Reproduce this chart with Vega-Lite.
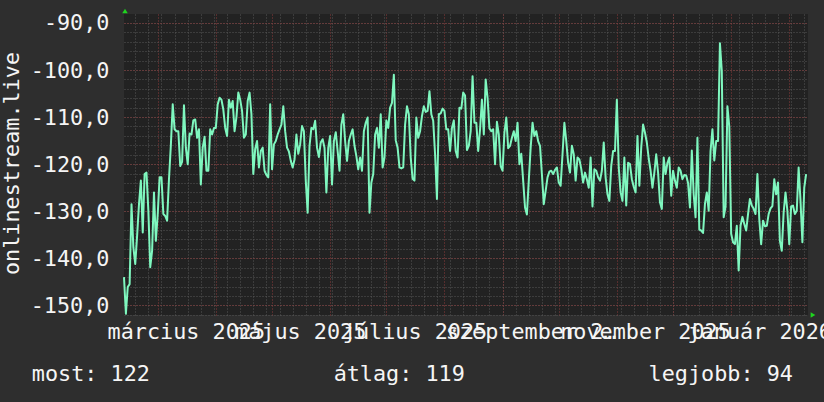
{
"$schema": "https://vega.github.io/schema/vega-lite/v6.json",
"autosize": {"type": "none"},
"width": 684, "height": 301,
"padding": {"left": 124, "top": 14, "right": 16, "bottom": 87},
"background": "#2e2e2e",
"config": {
 "view": {"fill": "#222222", "stroke": null},
 "font": "DejaVu Sans Mono",
 "axis": {"labelFont": "DejaVu Sans Mono", "labelFontSize": 21.8, "labelColor": "#f5f5f5", "titleFont": "DejaVu Sans Mono", "titleFontSize": 21.8, "titleFontWeight": "normal", "titleColor": "#f5f5f5", "ticks": false, "tickSize": 0, "domain": false, "gridWidth": 1, "gridOpacity": 1, "labelOverlap": false, "labelFlush": false}
},
"data": {"values": [
{"date":"2025-02-11","value":-144.0},{"date":"2025-02-12","value":-151.8},{"date":"2025-02-13","value":-146.1},{"date":"2025-02-14","value":-145.5},{"date":"2025-02-15","value":-128.5},{"date":"2025-02-16","value":-137.7},{"date":"2025-02-17","value":-141.2},{"date":"2025-02-18","value":-135.2},{"date":"2025-02-19","value":-128.5},{"date":"2025-02-20","value":-123.5},{"date":"2025-02-21","value":-134.5},{"date":"2025-02-22","value":-122.1},{"date":"2025-02-23","value":-121.8},{"date":"2025-02-24","value":-129.9},{"date":"2025-02-25","value":-141.9},{"date":"2025-02-26","value":-138.4},{"date":"2025-02-27","value":-126.0},{"date":"2025-02-28","value":-136.3},
{"date":"2025-03-01","value":-130.6},{"date":"2025-03-02","value":-122.8},{"date":"2025-03-03","value":-122.8},{"date":"2025-03-04","value":-130.6},{"date":"2025-03-05","value":-131.0},{"date":"2025-03-06","value":-132.0},{"date":"2025-03-07","value":-123.2},{"date":"2025-03-08","value":-116.0},{"date":"2025-03-09","value":-107.3},{"date":"2025-03-10","value":-112.6},{"date":"2025-03-11","value":-113.0},{"date":"2025-03-12","value":-113.0},{"date":"2025-03-13","value":-120.4},{"date":"2025-03-14","value":-119.5},{"date":"2025-03-15","value":-107.5},{"date":"2025-03-16","value":-116.5},{"date":"2025-03-17","value":-120.0},{"date":"2025-03-18","value":-113.5},{"date":"2025-03-19","value":-113.7},{"date":"2025-03-20","value":-110.7},{"date":"2025-03-21","value":-110.5},{"date":"2025-03-22","value":-114.4},{"date":"2025-03-23","value":-112.6},{"date":"2025-03-24","value":-124.3},{"date":"2025-03-25","value":-116.5},{"date":"2025-03-26","value":-114.2},{"date":"2025-03-27","value":-121.4},{"date":"2025-03-28","value":-121.4},{"date":"2025-03-29","value":-112.6},{"date":"2025-03-30","value":-113.7},{"date":"2025-03-31","value":-112.3},
{"date":"2025-04-01","value":-112.3},{"date":"2025-04-02","value":-107.3},{"date":"2025-04-03","value":-105.9},{"date":"2025-04-04","value":-106.3},{"date":"2025-04-05","value":-108.4},{"date":"2025-04-06","value":-112.3},{"date":"2025-04-07","value":-114.0},{"date":"2025-04-08","value":-106.3},{"date":"2025-04-09","value":-108.0},{"date":"2025-04-10","value":-106.6},{"date":"2025-04-11","value":-113.0},{"date":"2025-04-12","value":-110.0},{"date":"2025-04-13","value":-104.8},{"date":"2025-04-14","value":-106.3},{"date":"2025-04-15","value":-108.7},{"date":"2025-04-16","value":-114.4},{"date":"2025-04-17","value":-113.7},{"date":"2025-04-18","value":-106.6},{"date":"2025-04-19","value":-104.8},{"date":"2025-04-20","value":-109.4},{"date":"2025-04-21","value":-122.1},{"date":"2025-04-22","value":-116.8},{"date":"2025-04-23","value":-115.1},{"date":"2025-04-24","value":-120.7},{"date":"2025-04-25","value":-117.2},{"date":"2025-04-26","value":-116.5},{"date":"2025-04-27","value":-121.4},{"date":"2025-04-28","value":-122.3},{"date":"2025-04-29","value":-122.8},{"date":"2025-04-30","value":-107.3},
{"date":"2025-05-01","value":-121.1},{"date":"2025-05-02","value":-115.8},{"date":"2025-05-03","value":-115.1},{"date":"2025-05-04","value":-113.7},{"date":"2025-05-05","value":-112.6},{"date":"2025-05-06","value":-111.6},{"date":"2025-05-07","value":-107.7},{"date":"2025-05-08","value":-113.0},{"date":"2025-05-09","value":-116.5},{"date":"2025-05-10","value":-117.3},{"date":"2025-05-11","value":-119.3},{"date":"2025-05-12","value":-120.7},{"date":"2025-05-13","value":-119.0},{"date":"2025-05-14","value":-113.7},{"date":"2025-05-15","value":-117.8},{"date":"2025-05-16","value":-115.8},{"date":"2025-05-17","value":-111.9},{"date":"2025-05-18","value":-113.0},{"date":"2025-05-19","value":-123.5},{"date":"2025-05-20","value":-130.3},{"date":"2025-05-21","value":-116.1},{"date":"2025-05-22","value":-112.3},{"date":"2025-05-23","value":-112.6},{"date":"2025-05-24","value":-110.8},{"date":"2025-05-25","value":-116.5},{"date":"2025-05-26","value":-118.5},{"date":"2025-05-27","value":-115.4},{"date":"2025-05-28","value":-114.7},{"date":"2025-05-29","value":-116.5},{"date":"2025-05-30","value":-126.0},{"date":"2025-05-31","value":-116.5},
{"date":"2025-06-01","value":-114.0},{"date":"2025-06-02","value":-124.3},{"date":"2025-06-03","value":-115.1},{"date":"2025-06-04","value":-113.2},{"date":"2025-06-05","value":-117.2},{"date":"2025-06-06","value":-121.4},{"date":"2025-06-07","value":-111.6},{"date":"2025-06-08","value":-109.4},{"date":"2025-06-09","value":-115.1},{"date":"2025-06-10","value":-119.3},{"date":"2025-06-11","value":-115.1},{"date":"2025-06-12","value":-113.7},{"date":"2025-06-13","value":-112.6},{"date":"2025-06-14","value":-116.1},{"date":"2025-06-15","value":-118.3},{"date":"2025-06-16","value":-121.1},{"date":"2025-06-17","value":-118.6},{"date":"2025-06-18","value":-121.4},{"date":"2025-06-19","value":-113.0},{"date":"2025-06-20","value":-111.2},{"date":"2025-06-21","value":-110.1},{"date":"2025-06-22","value":-130.3},{"date":"2025-06-23","value":-123.9},{"date":"2025-06-24","value":-122.1},{"date":"2025-06-25","value":-113.7},{"date":"2025-06-26","value":-112.3},{"date":"2025-06-27","value":-116.5},{"date":"2025-06-28","value":-109.4},{"date":"2025-06-29","value":-120.7},{"date":"2025-06-30","value":-118.6},
{"date":"2025-07-01","value":-110.7},{"date":"2025-07-02","value":-112.3},{"date":"2025-07-03","value":-108.0},{"date":"2025-07-04","value":-107.0},{"date":"2025-07-05","value":-101.0},{"date":"2025-07-06","value":-114.9},{"date":"2025-07-07","value":-116.5},{"date":"2025-07-08","value":-120.7},{"date":"2025-07-09","value":-120.9},{"date":"2025-07-10","value":-120.7},{"date":"2025-07-11","value":-111.6},{"date":"2025-07-12","value":-107.7},{"date":"2025-07-13","value":-109.4},{"date":"2025-07-14","value":-118.6},{"date":"2025-07-15","value":-123.1},{"date":"2025-07-16","value":-123.5},{"date":"2025-07-17","value":-110.1},{"date":"2025-07-18","value":-114.4},{"date":"2025-07-19","value":-113.0},{"date":"2025-07-20","value":-109.8},{"date":"2025-07-21","value":-107.7},{"date":"2025-07-22","value":-108.9},{"date":"2025-07-23","value":-108.7},{"date":"2025-07-24","value":-104.5},{"date":"2025-07-25","value":-109.4},{"date":"2025-07-26","value":-110.8},{"date":"2025-07-27","value":-117.9},{"date":"2025-07-28","value":-127.4},{"date":"2025-07-29","value":-109.4},{"date":"2025-07-30","value":-109.2},{"date":"2025-07-31","value":-108.2},
{"date":"2025-08-01","value":-108.7},{"date":"2025-08-02","value":-112.6},{"date":"2025-08-03","value":-112.6},{"date":"2025-08-04","value":-117.2},{"date":"2025-08-05","value":-112.3},{"date":"2025-08-06","value":-110.7},{"date":"2025-08-07","value":-117.2},{"date":"2025-08-08","value":-118.6},{"date":"2025-08-09","value":-108.0},{"date":"2025-08-10","value":-108.2},{"date":"2025-08-11","value":-104.8},{"date":"2025-08-12","value":-105.4},{"date":"2025-08-13","value":-117.0},{"date":"2025-08-14","value":-116.1},{"date":"2025-08-15","value":-113.0},{"date":"2025-08-16","value":-101.3},{"date":"2025-08-17","value":-111.2},{"date":"2025-08-18","value":-111.2},{"date":"2025-08-19","value":-117.2},{"date":"2025-08-20","value":-112.6},{"date":"2025-08-21","value":-106.3},{"date":"2025-08-22","value":-113.7},{"date":"2025-08-23","value":-102.0},{"date":"2025-08-24","value":-105.9},{"date":"2025-08-25","value":-112.4},{"date":"2025-08-26","value":-113.0},{"date":"2025-08-27","value":-112.6},{"date":"2025-08-28","value":-120.0},{"date":"2025-08-29","value":-111.0},{"date":"2025-08-30","value":-113.7},{"date":"2025-08-31","value":-120.4},
{"date":"2025-09-01","value":-121.4},{"date":"2025-09-02","value":-113.3},{"date":"2025-09-03","value":-110.1},{"date":"2025-09-04","value":-116.6},{"date":"2025-09-05","value":-116.1},{"date":"2025-09-06","value":-114.4},{"date":"2025-09-07","value":-113.0},{"date":"2025-09-08","value":-115.1},{"date":"2025-09-09","value":-111.2},{"date":"2025-09-10","value":-120.0},{"date":"2025-09-11","value":-117.8},{"date":"2025-09-12","value":-123.5},{"date":"2025-09-13","value":-129.2},{"date":"2025-09-14","value":-130.7},{"date":"2025-09-15","value":-123.5},{"date":"2025-09-16","value":-116.5},{"date":"2025-09-17","value":-111.2},{"date":"2025-09-18","value":-114.0},{"date":"2025-09-19","value":-113.0},{"date":"2025-09-20","value":-115.1},{"date":"2025-09-21","value":-116.1},{"date":"2025-09-22","value":-122.1},{"date":"2025-09-23","value":-128.5},{"date":"2025-09-24","value":-125.7},{"date":"2025-09-25","value":-122.8},{"date":"2025-09-26","value":-121.6},{"date":"2025-09-27","value":-121.4},{"date":"2025-09-28","value":-122.1},{"date":"2025-09-29","value":-121.2},{"date":"2025-09-30","value":-120.7},
{"date":"2025-10-01","value":-123.9},{"date":"2025-10-02","value":-124.6},{"date":"2025-10-03","value":-117.9},{"date":"2025-10-04","value":-111.2},{"date":"2025-10-05","value":-115.1},{"date":"2025-10-06","value":-119.7},{"date":"2025-10-07","value":-121.8},{"date":"2025-10-08","value":-116.1},{"date":"2025-10-09","value":-117.9},{"date":"2025-10-10","value":-123.5},{"date":"2025-10-11","value":-118.6},{"date":"2025-10-12","value":-119.0},{"date":"2025-10-13","value":-121.0},{"date":"2025-10-14","value":-123.9},{"date":"2025-10-15","value":-121.8},{"date":"2025-10-16","value":-123.2},{"date":"2025-10-17","value":-125.0},{"date":"2025-10-18","value":-118.6},{"date":"2025-10-19","value":-129.0},{"date":"2025-10-20","value":-121.1},{"date":"2025-10-21","value":-121.4},{"date":"2025-10-22","value":-122.8},{"date":"2025-10-23","value":-123.5},{"date":"2025-10-24","value":-121.4},{"date":"2025-10-25","value":-115.4},{"date":"2025-10-26","value":-122.8},{"date":"2025-10-27","value":-126.4},{"date":"2025-10-28","value":-127.8},{"date":"2025-10-29","value":-120.4},{"date":"2025-10-30","value":-117.2},{"date":"2025-10-31","value":-117.2},
{"date":"2025-11-01","value":-106.3},{"date":"2025-11-02","value":-120.7},{"date":"2025-11-03","value":-126.0},{"date":"2025-11-04","value":-127.8},{"date":"2025-11-05","value":-118.6},{"date":"2025-11-06","value":-128.8},{"date":"2025-11-07","value":-119.7},{"date":"2025-11-08","value":-120.0},{"date":"2025-11-09","value":-123.2},{"date":"2025-11-10","value":-124.8},{"date":"2025-11-11","value":-126.0},{"date":"2025-11-12","value":-114.0},{"date":"2025-11-13","value":-124.6},{"date":"2025-11-14","value":-116.5},{"date":"2025-11-15","value":-111.6},{"date":"2025-11-16","value":-113.3},{"date":"2025-11-17","value":-115.4},{"date":"2025-11-18","value":-118.8},{"date":"2025-11-19","value":-121.4},{"date":"2025-11-20","value":-125.0},{"date":"2025-11-21","value":-121.8},{"date":"2025-11-22","value":-117.9},{"date":"2025-11-23","value":-121.8},{"date":"2025-11-24","value":-128.1},{"date":"2025-11-25","value":-129.5},{"date":"2025-11-26","value":-118.6},{"date":"2025-11-27","value":-122.1},{"date":"2025-11-28","value":-119.7},{"date":"2025-11-29","value":-118.6},{"date":"2025-11-30","value":-126.7},
{"date":"2025-12-01","value":-121.4},{"date":"2025-12-02","value":-123.5},{"date":"2025-12-03","value":-125.0},{"date":"2025-12-04","value":-120.7},{"date":"2025-12-05","value":-121.4},{"date":"2025-12-06","value":-123.2},{"date":"2025-12-07","value":-122.3},{"date":"2025-12-08","value":-122.4},{"date":"2025-12-09","value":-124.0},{"date":"2025-12-10","value":-129.2},{"date":"2025-12-11","value":-117.1},{"date":"2025-12-12","value":-126.4},{"date":"2025-12-13","value":-131.3},{"date":"2025-12-14","value":-114.4},{"date":"2025-12-15","value":-133.9},{"date":"2025-12-16","value":-134.1},{"date":"2025-12-17","value":-134.6},{"date":"2025-12-18","value":-128.5},{"date":"2025-12-19","value":-126.0},{"date":"2025-12-20","value":-129.9},{"date":"2025-12-21","value":-117.2},{"date":"2025-12-22","value":-112.6},{"date":"2025-12-23","value":-119.2},{"date":"2025-12-24","value":-115.1},{"date":"2025-12-25","value":-115.1},{"date":"2025-12-26","value":-94.3},{"date":"2025-12-27","value":-100.3},{"date":"2025-12-28","value":-131.3},{"date":"2025-12-29","value":-129.0},{"date":"2025-12-30","value":-107.7},{"date":"2025-12-31","value":-112.0},
{"date":"2026-01-01","value":-134.8},{"date":"2026-01-02","value":-136.6},{"date":"2026-01-03","value":-137.0},{"date":"2026-01-04","value":-133.1},{"date":"2026-01-05","value":-142.6},{"date":"2026-01-06","value":-133.1},{"date":"2026-01-07","value":-131.2},{"date":"2026-01-08","value":-132.7},{"date":"2026-01-09","value":-134.1},{"date":"2026-01-10","value":-130.6},{"date":"2026-01-11","value":-127.4},{"date":"2026-01-12","value":-128.8},{"date":"2026-01-13","value":-129.5},{"date":"2026-01-14","value":-130.6},{"date":"2026-01-15","value":-122.1},{"date":"2026-01-16","value":-131.7},{"date":"2026-01-17","value":-137.0},{"date":"2026-01-18","value":-132.0},{"date":"2026-01-19","value":-133.2},{"date":"2026-01-20","value":-133.1},{"date":"2026-01-21","value":-130.6},{"date":"2026-01-22","value":-129.4},{"date":"2026-01-23","value":-128.9},{"date":"2026-01-24","value":-123.2},{"date":"2026-01-25","value":-126.4},{"date":"2026-01-26","value":-123.9},{"date":"2026-01-27","value":-136.3},{"date":"2026-01-28","value":-138.4},{"date":"2026-01-29","value":-130.3},{"date":"2026-01-30","value":-126.0},{"date":"2026-01-31","value":-129.9},
{"date":"2026-02-01","value":-137.0},{"date":"2026-02-02","value":-129.0},{"date":"2026-02-03","value":-128.8},{"date":"2026-02-04","value":-130.6},{"date":"2026-02-05","value":-129.9},{"date":"2026-02-06","value":-120.7},{"date":"2026-02-07","value":-127.8},{"date":"2026-02-08","value":-136.6},{"date":"2026-02-09","value":-125.0},{"date":"2026-02-10","value":-122.1}
]},
"resolve": {"axis": {"x": "independent", "y": "independent"}},
"layer": [
 {
  "mark": {"type": "line", "opacity": 0},
  "encoding": {
   "x": {"field": "date", "type": "temporal",
    "scale": {"type": "utc", "nice": false, "domain": [{"year": 2025, "month": 2, "date": 11, "utc": true}, {"year": 2026, "month": 2, "date": 11, "utc": true}]},
    "axis": {"orient": "bottom", "title": null, "labels": false, "grid": true, "gridColor": "#565656", "gridDash": [1, 2],
     "values": [
      {"year":2025,"month":2,"date":17,"utc":true},{"year":2025,"month":2,"date":24,"utc":true},
      {"year":2025,"month":3,"date":3,"utc":true},{"year":2025,"month":3,"date":10,"utc":true},{"year":2025,"month":3,"date":17,"utc":true},{"year":2025,"month":3,"date":24,"utc":true},{"year":2025,"month":3,"date":31,"utc":true},
      {"year":2025,"month":4,"date":7,"utc":true},{"year":2025,"month":4,"date":14,"utc":true},{"year":2025,"month":4,"date":21,"utc":true},{"year":2025,"month":4,"date":28,"utc":true},
      {"year":2025,"month":5,"date":5,"utc":true},{"year":2025,"month":5,"date":12,"utc":true},{"year":2025,"month":5,"date":19,"utc":true},{"year":2025,"month":5,"date":26,"utc":true},
      {"year":2025,"month":6,"date":2,"utc":true},{"year":2025,"month":6,"date":9,"utc":true},{"year":2025,"month":6,"date":16,"utc":true},{"year":2025,"month":6,"date":23,"utc":true},{"year":2025,"month":6,"date":30,"utc":true},
      {"year":2025,"month":7,"date":7,"utc":true},{"year":2025,"month":7,"date":14,"utc":true},{"year":2025,"month":7,"date":21,"utc":true},{"year":2025,"month":7,"date":28,"utc":true},
      {"year":2025,"month":8,"date":4,"utc":true},{"year":2025,"month":8,"date":11,"utc":true},{"year":2025,"month":8,"date":18,"utc":true},{"year":2025,"month":8,"date":25,"utc":true},
      {"year":2025,"month":9,"date":1,"utc":true},{"year":2025,"month":9,"date":8,"utc":true},{"year":2025,"month":9,"date":15,"utc":true},{"year":2025,"month":9,"date":22,"utc":true},{"year":2025,"month":9,"date":29,"utc":true},
      {"year":2025,"month":10,"date":6,"utc":true},{"year":2025,"month":10,"date":13,"utc":true},{"year":2025,"month":10,"date":20,"utc":true},{"year":2025,"month":10,"date":27,"utc":true},
      {"year":2025,"month":11,"date":3,"utc":true},{"year":2025,"month":11,"date":10,"utc":true},{"year":2025,"month":11,"date":17,"utc":true},{"year":2025,"month":11,"date":24,"utc":true},
      {"year":2025,"month":12,"date":1,"utc":true},{"year":2025,"month":12,"date":8,"utc":true},{"year":2025,"month":12,"date":15,"utc":true},{"year":2025,"month":12,"date":22,"utc":true},{"year":2025,"month":12,"date":29,"utc":true},
      {"year":2026,"month":1,"date":5,"utc":true},{"year":2026,"month":1,"date":12,"utc":true},{"year":2026,"month":1,"date":19,"utc":true},{"year":2026,"month":1,"date":26,"utc":true},
      {"year":2026,"month":2,"date":2,"utc":true},{"year":2026,"month":2,"date":9,"utc":true}
     ]}},
   "y": {"field": "value", "type": "quantitative",
    "scale": {"domain": [-152.05, -88.1], "nice": false, "zero": false},
    "axis": {"orient": "left", "title": null, "labels": false, "grid": true, "gridColor": "#565656", "gridDash": [1, 2],
     "values": [-152,-150,-148,-146,-144,-142,-140,-138,-136,-134,-132,-130,-128,-126,-124,-122,-120,-118,-116,-114,-112,-110,-108,-106,-104,-102,-100,-98,-96,-94,-92,-90]}}
  }
 },
 {
  "mark": {"type": "line", "opacity": 0},
  "encoding": {
   "x": {"field": "date", "type": "temporal",
    "scale": {"type": "utc", "nice": false, "domain": [{"year": 2025, "month": 2, "date": 11, "utc": true}, {"year": 2026, "month": 2, "date": 11, "utc": true}]},
    "axis": {"orient": "bottom", "title": null, "labels": false, "grid": true, "gridColor": "#8a3b3b", "gridDash": [1, 2],
     "values": [
      {"year":2025,"month":3,"date":1,"utc":true},{"year":2025,"month":4,"date":1,"utc":true},{"year":2025,"month":5,"date":1,"utc":true},{"year":2025,"month":6,"date":1,"utc":true},
      {"year":2025,"month":7,"date":1,"utc":true},{"year":2025,"month":8,"date":1,"utc":true},{"year":2025,"month":9,"date":1,"utc":true},{"year":2025,"month":10,"date":1,"utc":true},
      {"year":2025,"month":11,"date":1,"utc":true},{"year":2025,"month":12,"date":1,"utc":true},{"year":2026,"month":1,"date":1,"utc":true},{"year":2026,"month":2,"date":1,"utc":true}
     ]}},
   "y": {"field": "value", "type": "quantitative",
    "scale": {"domain": [-152.05, -88.1], "nice": false, "zero": false},
    "axis": {"orient": "left", "grid": true, "gridColor": "#8a3b3b", "gridDash": [1, 2],
     "values": [-150,-140,-130,-120,-110,-100,-90],
     "labelExpr": "replace(replace(format(datum.value, '.1f'), '.', ','), '\u2212', '-')",
     "labelAlign": "right", "labelBaseline": "middle", "labelPadding": 15,
     "title": "onlinestream.live", "titleX": -106, "titleY": 149, "titleAngle": -90, "titleAlign": "center", "titleBaseline": "alphabetic"}}
  }
 },
 {
  "mark": {"type": "line", "color": "#7ff7bf", "strokeWidth": 2, "strokeJoin": "round", "interpolate": "linear"},
  "encoding": {
   "x": {"field": "date", "type": "temporal",
    "scale": {"type": "utc", "nice": false, "domain": [{"year": 2025, "month": 2, "date": 11, "utc": true}, {"year": 2026, "month": 2, "date": 11, "utc": true}]},
    "axis": {"orient": "bottom", "grid": false,
     "values": [{"year":2025,"month":3,"date":16,"utc":true},{"year":2025,"month":5,"date":16,"utc":true},{"year":2025,"month":7,"date":16,"utc":true},{"year":2025,"month":9,"date":16,"utc":true},{"year":2025,"month":11,"date":16,"utc":true},{"year":2026,"month":1,"date":16,"utc":true}],
     "labelExpr": "['január','február','március','április','május','június','július','augusztus','szeptember','október','november','december'][utcmonth(datum.value)] + ' ' + utcyear(datum.value)",
     "labelAlign": "center", "labelBaseline": "alphabetic", "labelPadding": 23, "labelBound": false,
     "title": "most: 122\u00a0\u00a0\u00a0\u00a0\u00a0\u00a0\u00a0\u00a0\u00a0\u00a0\u00a0\u00a0\u00a0\u00a0átlag: 119\u00a0\u00a0\u00a0\u00a0\u00a0\u00a0\u00a0\u00a0\u00a0\u00a0\u00a0\u00a0\u00a0\u00a0legjobb: 94",
     "titleX": -92.7, "titleY": 65, "titleAlign": "left", "titleBaseline": "alphabetic", "titleAnchor": "start"}},
   "y": {"field": "value", "type": "quantitative",
    "scale": {"domain": [-152.05, -88.1], "nice": false, "zero": false},
    "axis": null}
  }
 },
 {
  "data": {"values": [{}]},
  "mark": {"type": "point", "shape": "triangle-up", "filled": true, "size": 30, "color": "#1fd41f", "opacity": 1, "yOffset": -3, "xOffset": 1},
  "encoding": {
   "x": {"datum": {"year": 2025, "month": 2, "date": 11, "utc": true}, "type": "temporal", "axis": null},
   "y": {"datum": -88.1, "type": "quantitative", "axis": null}
  }
 },
 {
  "data": {"values": [{}]},
  "mark": {"type": "point", "shape": "triangle-right", "filled": true, "size": 30, "color": "#1fd41f", "opacity": 1, "xOffset": 5},
  "encoding": {
   "x": {"datum": {"year": 2026, "month": 2, "date": 11, "utc": true}, "type": "temporal", "axis": null},
   "y": {"datum": -152.05, "type": "quantitative", "axis": null}
  }
 }
]
}
